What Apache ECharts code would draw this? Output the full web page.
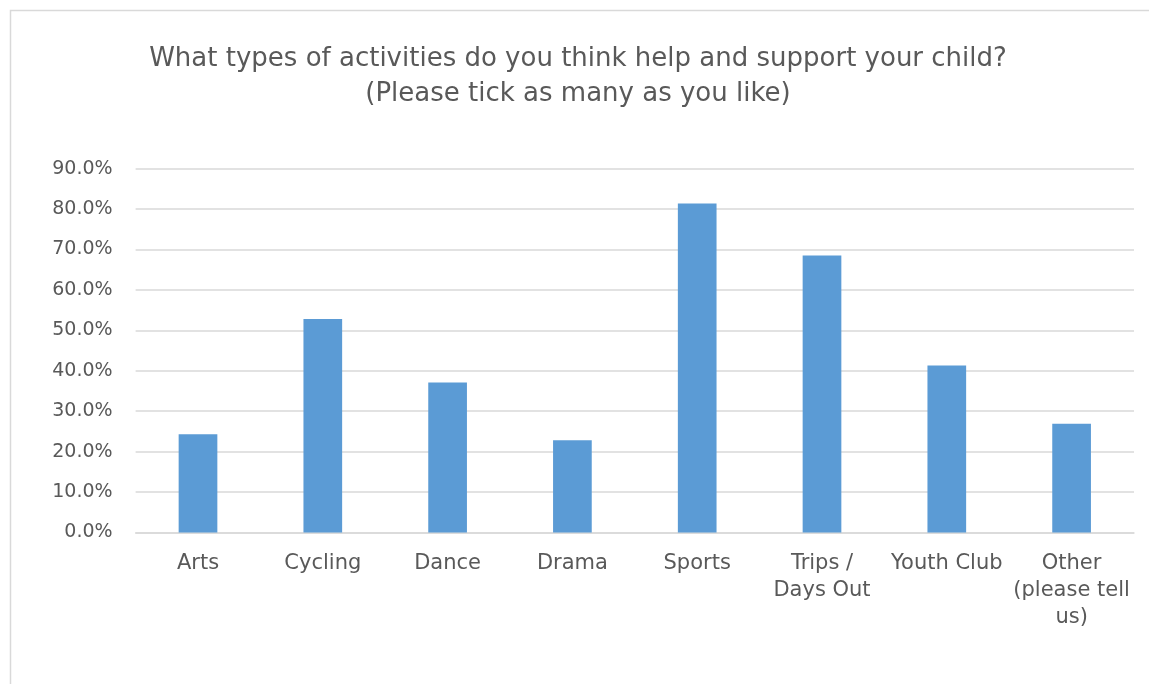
<!DOCTYPE html>
<html>
<head>
<meta charset="utf-8">
<script src="https://cdn.jsdelivr.net/npm/echarts@6/dist/echarts.min.js"></script>
<style>
  html, body { margin: 0; padding: 0; background: #fff; }
  #chart { width: 1149px; height: 684px; }
</style>
</head>
<body>
<div id="chart"></div>
<script>
// Survey answers: share of parents choosing each activity
const categories = ['Arts', 'Cycling', 'Dance', 'Drama', 'Sports', 'Trips /\nDays Out', 'Youth Club', 'Other\n(please tell\nus)'];
const shares = [24.3, 52.8, 37.1, 22.8, 81.4, 68.5, 41.3, 26.9];
const yTicks = { min: 0, max: 90, step: 10 };
const titleLines = ['What types of activities do you think help and support your child?', '(Please tick as many as you like)'];

const FONT = '"DejaVu Sans", Verdana, sans-serif';
const chart = echarts.init(document.getElementById('chart'));
chart.setOption({
  backgroundColor: '#ffffff',
  animation: false,
  graphic: [{
    type: 'rect',
    shape: { x: 10.5, y: 10.5, width: 1300, height: 800 },
    style: { fill: 'none', stroke: '#d9d9d9', lineWidth: 1.5 },
    silent: true
  }],
  title: {
    text: titleLines.join('\n'),
    left: 573,
    top: 37,
    textAlign: 'center',
    textStyle: { fontFamily: FONT, fontSize: 26, fontWeight: 'normal', color: '#595959', lineHeight: 35 }
  },
  grid: { left: 135.6, right: 15, top: 168.7, bottom: 151.5 },
  xAxis: {
    type: 'category',
    data: categories,
    axisLine: { lineStyle: { color: '#d9d9d9', width: 1.5 } },
    axisTick: { show: false },
    axisLabel: {
      interval: 0, margin: 18, color: '#595959',
      fontFamily: FONT, fontSize: 21, lineHeight: 27
    }
  },
  yAxis: {
    type: 'value',
    min: yTicks.min, max: yTicks.max, interval: yTicks.step,
    axisLine: { show: false },
    axisTick: { show: false },
    splitLine: { lineStyle: { color: '#d9d9d9', width: 1.5 } },
    axisLabel: {
      margin: 23, color: '#595959', fontFamily: FONT, fontSize: 19,
      formatter: v => v.toFixed(1) + '%'
    }
  },
  series: [{
    type: 'bar',
    data: shares,
    barWidth: '31%',
    itemStyle: { color: '#5b9bd5' }
  }]
});
</script>
</body>
</html>
